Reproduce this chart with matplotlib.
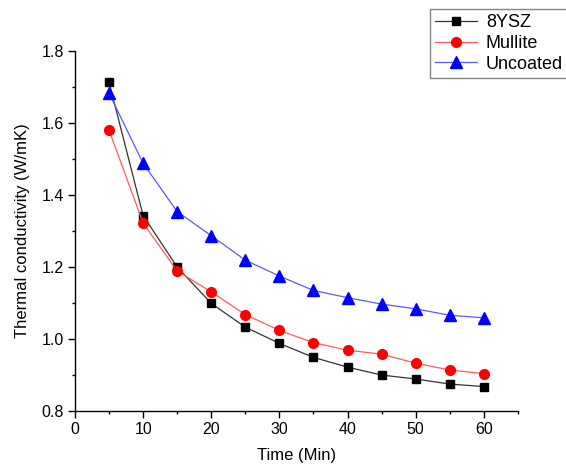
import matplotlib
matplotlib.use("Agg")
from matplotlib import pyplot as plt
from matplotlib.ticker import MultipleLocator

plt.rcParams['font.family'] = ['Liberation Sans', 'DejaVu Sans']

# --- data ---
time_min = [5, 10, 15, 20, 25, 30, 35, 40, 45, 50, 55, 60]
ysz8 = [1.712, 1.342, 1.199, 1.098, 1.032, 0.987, 0.948, 0.921, 0.899, 0.888, 0.874, 0.867]
mullite = [1.579, 1.321, 1.188, 1.130, 1.067, 1.023, 0.989, 0.968, 0.957, 0.932, 0.913, 0.903]
uncoated = [1.682, 1.487, 1.353, 1.286, 1.218, 1.174, 1.134, 1.114, 1.096, 1.083, 1.065, 1.058]

fig = plt.figure(figsize=(5.66, 4.66), dpi=100)
ax = fig.add_axes([0.1325, 0.1187, 0.7825, 0.7725])

ax.plot(time_min, ysz8, color='#333333', lw=0.9, marker='s', ms=6.3,
        mfc='black', mec='black', label='8YSZ')
ax.plot(time_min, mullite, color='#ff5a5a', lw=0.9, marker='o', ms=7,
        mfc='red', mec='red', label='Mullite')
ax.plot(time_min, uncoated, color='#5a5aff', lw=0.9, marker='^', ms=8,
        mfc='blue', mec='blue', label='Uncoated')

ax.set_xlim(0, 65)
ax.set_ylim(0.8, 1.8)
ax.xaxis.set_minor_locator(MultipleLocator(5))
ax.yaxis.set_major_locator(MultipleLocator(0.2))
ax.yaxis.set_minor_locator(MultipleLocator(0.1))
ax.set_xticks([0, 10, 20, 30, 40, 50, 60])
ax.set_yticklabels([f'{v:.1f}' for v in ax.get_yticks()])

for side in ('top', 'right'):
    ax.spines[side].set_visible(False)
for side in ('left', 'bottom'):
    ax.spines[side].set_linewidth(1.0)

ax.tick_params(which='major', direction='out', length=5, width=1.0, labelsize=11.5, pad=3)
ax.tick_params(which='minor', direction='out', length=2.5, width=1.0)

ax.set_xlabel('Time (Min)', fontsize=12, labelpad=8)
ax.set_ylabel('Thermal conductivity (W/mK)', fontsize=12, labelpad=8)

# legend box runs off the right edge, as in the source figure
leg = fig.legend(loc='upper left', bbox_to_anchor=(430 / 566, 1 - 9 / 466),
                 fontsize=13, frameon=True, fancybox=False, edgecolor='#666666',
                 handlelength=2.3, handletextpad=0.5, borderpad=0.3,
                 borderaxespad=0, labelspacing=0.2, markerscale=1.0)
leg.get_frame().set_linewidth(1.0)

fig.savefig('out.png', dpi=100)
